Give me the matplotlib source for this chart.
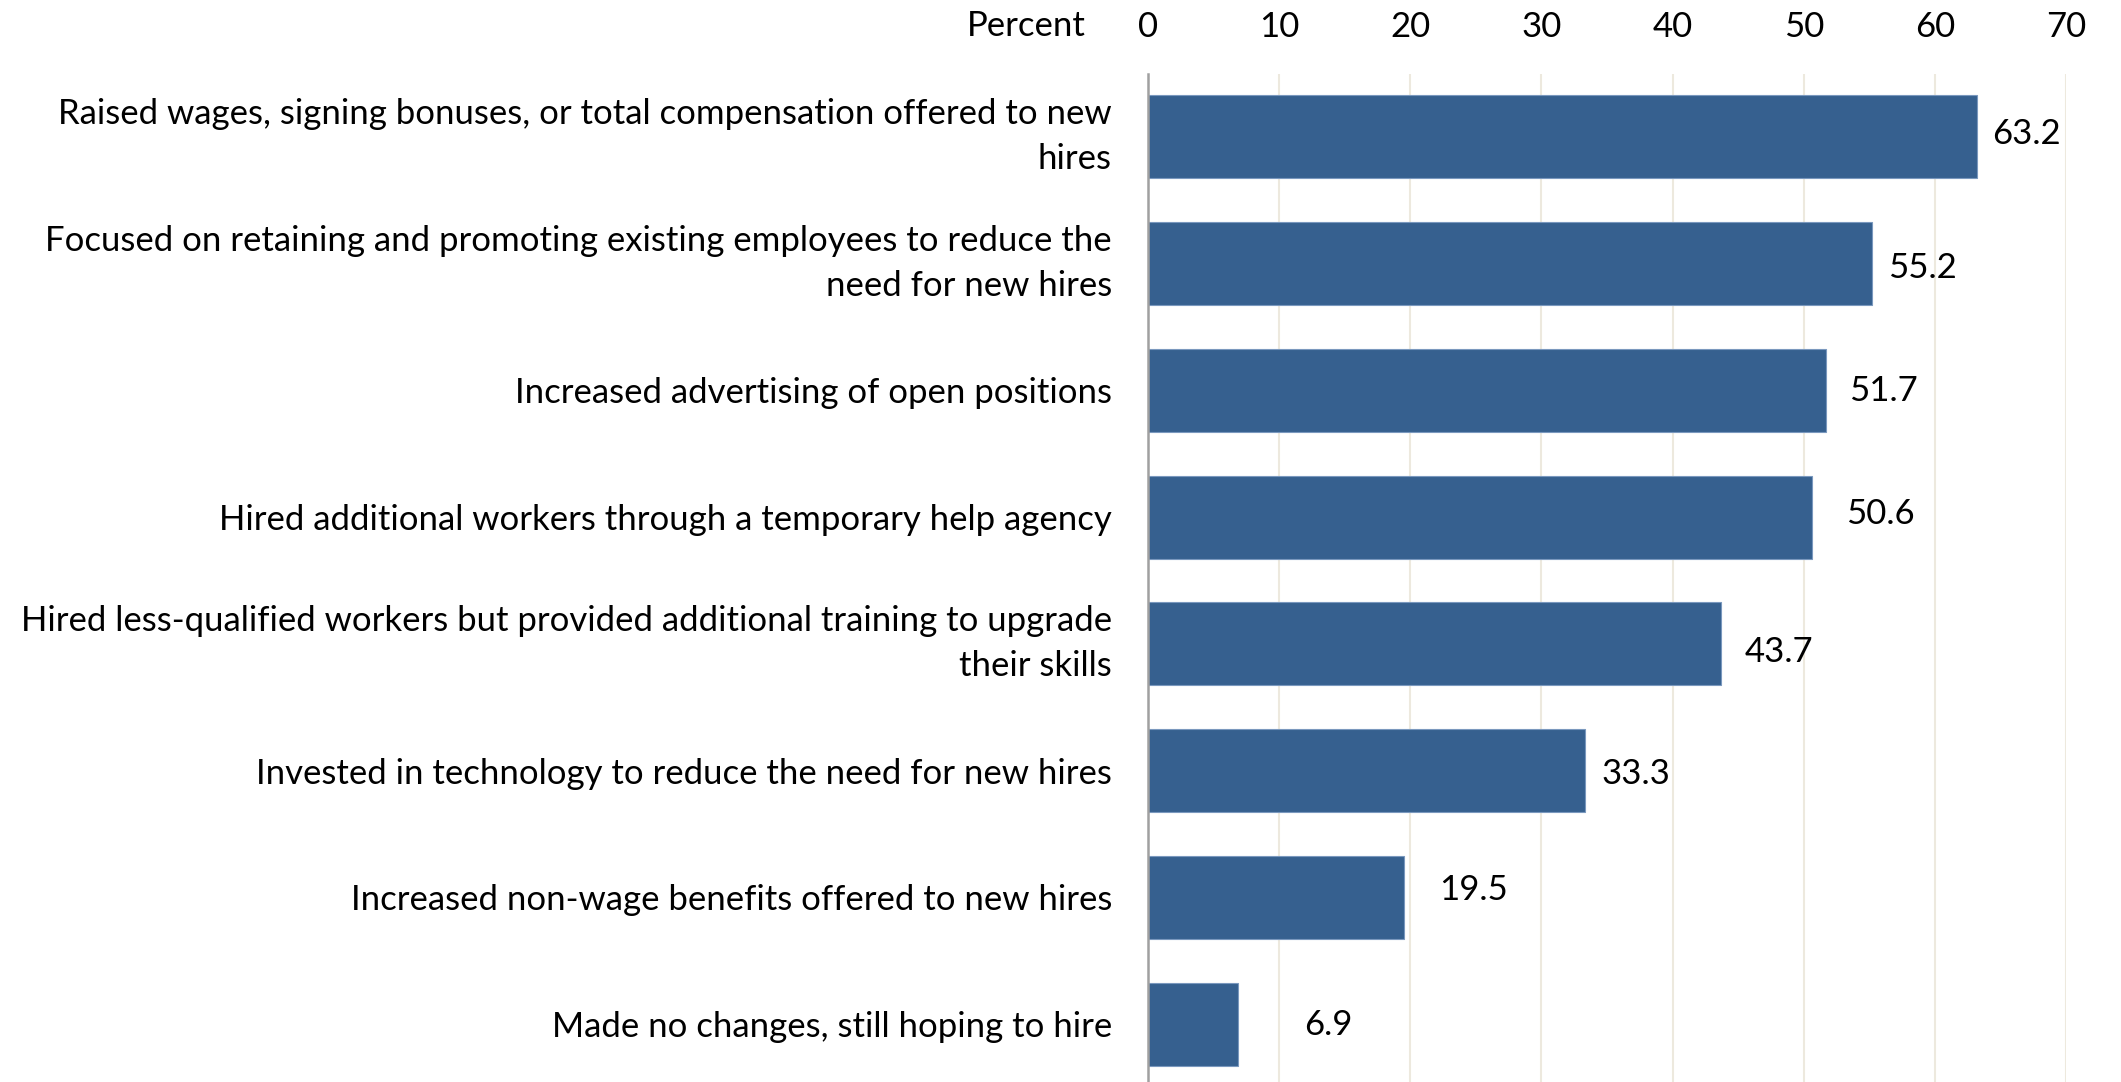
import matplotlib
matplotlib.use('Agg')
import matplotlib.pyplot as plt

# data, top to bottom as drawn
categories = [
    'Raised wages, signing bonuses, or total compensation offered to new\nhires',
    'Focused on retaining and promoting existing employees to reduce the\nneed for new hires',
    'Increased advertising of open positions',
    'Hired additional workers through a temporary help agency',
    'Hired less-qualified workers but provided additional training to upgrade\ntheir skills',
    'Invested in technology to reduce the need for new hires',
    'Increased non-wage benefits offered to new hires',
    'Made no changes, still hoping to hire',
]
percent = [63.2, 55.2, 51.7, 50.6, 43.7, 33.3, 19.5, 6.9]
x_ticks = [0, 10, 20, 30, 40, 50, 60, 70]

# hand-placed value label nudges in the original (pixels: right, down)
label_dx = [15, 16, 23, 34, 24, 17, 35, 66]
label_dy = [-3, 4, 1, -3, 8, 3, -7, 1]

BAR_COLOR = '#36608F'
GRID_COLOR = '#EDE9DE'
FONT = 'Lato'
FS = 25

plt.rcParams['font.family'] = [FONT, 'DejaVu Sans']

fig = plt.figure(figsize=(21.21, 10.82), dpi=100)
ax = fig.add_axes([1148 / 2121, -0.005, (2066 - 1148) / 2121, 0.937])

ypos = list(range(len(categories)))
ax.barh(ypos, percent, height=0.655, color=BAR_COLOR, edgecolor='#7A98BE',
        linewidth=0.8, zorder=3)

ax.set_xlim(0, 70)
ax.set_ylim(len(categories) - 0.5, -0.5)
ax.set_xticks(x_ticks)
ax.set_yticks(ypos)
ax.set_yticklabels(categories, fontsize=FS, linespacing=1.5, ha='right')
# two-line labels: center the block on the bar
for lbl in ax.get_yticklabels():
    if '\n' in lbl.get_text():
        lbl.set_va('center')
ax.xaxis.tick_top()
ax.tick_params(axis='x', length=0, pad=22, labelsize=FS)
ax.tick_params(axis='y', length=0, pad=26)
ax.grid(axis='x', color=GRID_COLOR, linewidth=1.5, zorder=0)
for s in ['top', 'right', 'bottom']:
    ax.spines[s].set_visible(False)
ax.spines['left'].set_color('#A0A0A0')
ax.spines['left'].set_linewidth(1.8)
ax.spines['left'].set_zorder(4)

for i, v in enumerate(percent):
    ax.annotate('%.1f' % v, (v, i), xytext=(label_dx[i], -label_dy[i]),
                textcoords='offset pixels', ha='left', va='center', fontsize=FS)

fig.text(1086 / 2121, 1 - 26 / 1082, 'Percent', ha='right', va='center', fontsize=FS)

fig.savefig('out.png', dpi=100)
